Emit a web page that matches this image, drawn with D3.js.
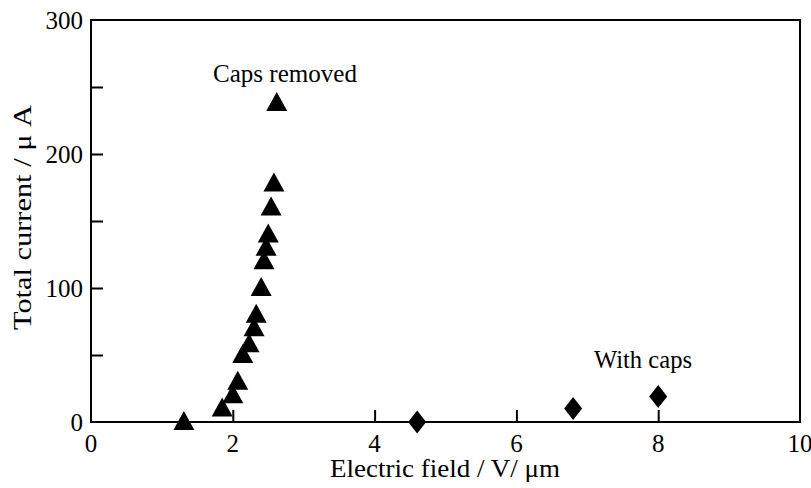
<!DOCTYPE html>
<html>
<head>
<meta charset="utf-8">
<script src="https://cdn.jsdelivr.net/npm/d3@7"></script>
<style>
  body { margin: 0; background: #fff; }
</style>
</head>
<body>
<div id="chart"></div>
<script>
// caps removed (triangles)
let capsOffField = [1.31, 1.85, 2.0, 2.07, 2.14, 2.23, 2.30, 2.33, 2.40, 2.44, 2.47, 2.50, 2.54, 2.58, 2.62];
let capsOffCurrent = [0, 10, 20, 30, 50, 58, 70, 80, 100, 120, 130, 140, 160, 178, 238];
// with caps (diamonds)
let capsOnField = [4.6, 6.8, 8.0];
let capsOnCurrent = [0, 10, 19];

let xTicks = [0, 2, 4, 6, 8, 10];
let yTicks = [0, 50, 100, 150, 200, 250, 300];
let yTickLabels = [0, 100, 200, 300];

let svgWidth = 811, svgHeight = 488;
let margin = { top: 20, right: 11, bottom: 66, left: 91 };
let width = svgWidth - margin.left - margin.right;
let height = svgHeight - margin.top - margin.bottom;
let fontSize = 25;

let svg = d3.select("#chart").append("svg")
  .attr("width", svgWidth)
  .attr("height", svgHeight)
  .attr("font-family", "'Liberation Serif', 'Times New Roman', Times, serif");

let g = svg.append("g")
  .attr("transform", `translate(${margin.left},${margin.top})`);

let x = d3.scaleLinear().domain([0, 10]).range([0, width]);
let y = d3.scaleLinear().domain([0, 300]).range([height, 0]);

// frame
g.append("rect")
  .attr("width", width).attr("height", height)
  .attr("fill", "none").attr("stroke", "#000").attr("stroke-width", 2);

// x axis, ticks pointing inward
let xAxis = g.append("g")
  .attr("transform", `translate(0,${height})`)
  .call(d3.axisTop(x).tickValues(xTicks.slice(1, -1)).tickSize(12).tickFormat(""));
xAxis.select(".domain").remove();
xAxis.selectAll("line").attr("stroke-width", 2);

g.selectAll(".xlab").data(xTicks).enter().append("text")
  .attr("x", d => x(d)).attr("y", height + 30)
  .attr("text-anchor", "middle").attr("font-size", fontSize)
  .text(d => d);

// y axis, inward ticks every 50
let yAxis = g.append("g")
  .call(d3.axisRight(y).tickValues(yTicks.slice(1, -1)).tickSize(12).tickFormat(""));
yAxis.select(".domain").remove();
yAxis.selectAll("line").attr("stroke-width", 2);

g.selectAll(".ylab").data(yTickLabels).enter().append("text")
  .attr("x", -8).attr("y", d => y(d)).attr("dy", "0.35em")
  .attr("text-anchor", "end").attr("font-size", fontSize)
  .text(d => d);

// axis titles (stretched a little like the scanned figure)
svg.append("text")
  .attr("x", 330).attr("y", 477)
  .attr("font-size", fontSize)
  .attr("textLength", 230).attr("lengthAdjust", "spacingAndGlyphs")
  .text("Electric field / V/ \u03bcm");

svg.append("text")
  .attr("transform", "translate(31,330) rotate(-90)")
  .attr("font-size", fontSize)
  .attr("textLength", 225).attr("lengthAdjust", "spacingAndGlyphs")
  .text("Total current / \u03bc A");

// points
let triPath = "M0,-11 L10.5,8 L-10.5,8 Z";
let diaPath = "M0,-11.5 L9,0 L0,11.5 L-9,0 Z";

g.selectAll(".tri").data(capsOffField).enter().append("path")
  .attr("d", triPath)
  .attr("transform", (d, i) => `translate(${x(d)},${y(capsOffCurrent[i])})`)
  .attr("fill", "#000");

g.selectAll(".dia").data(capsOnField).enter().append("path")
  .attr("d", diaPath)
  .attr("transform", (d, i) => `translate(${x(d)},${y(capsOnCurrent[i])})`)
  .attr("fill", "#000");

// annotations
svg.append("text")
  .attr("x", 213).attr("y", 82)
  .attr("font-size", fontSize)
  .attr("textLength", 144).attr("lengthAdjust", "spacingAndGlyphs")
  .text("Caps removed");

svg.append("text")
  .attr("x", 594).attr("y", 368)
  .attr("font-size", fontSize)
  .attr("textLength", 98).attr("lengthAdjust", "spacingAndGlyphs")
  .text("With caps");
</script>
</body>
</html>
